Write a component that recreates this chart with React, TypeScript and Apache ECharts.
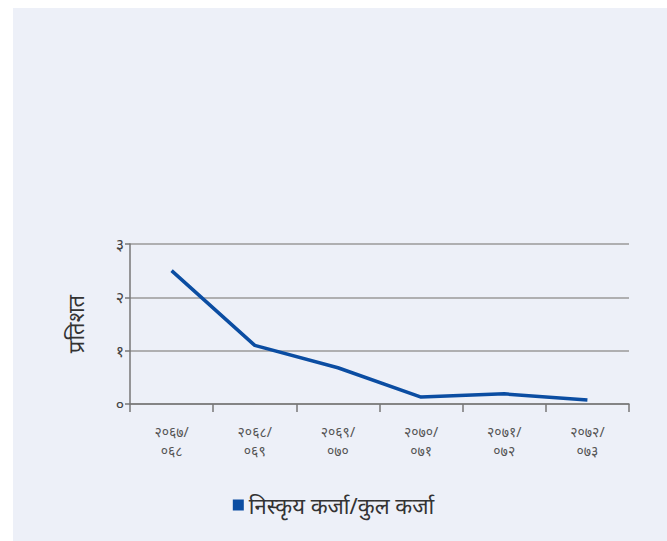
import React, { useEffect, useRef } from "react";
import * as echarts from "echarts";

const categories = [
  "२०६७/\n०६८",
  "२०६८/\n०६९",
  "२०६९/\n०७०",
  "२०७०/\n०७१",
  "२०७१/\n०७२",
  "२०७२/\n०७३",
];
const seriesName = "निस्कृय कर्जा/कुल कर्जा";
const values = [2.5, 1.1, 0.68, 0.13, 0.19, 0.075];
const yTickLabels = ["०", "१", "२", "३"];
const yAxisName = "प्रतिशत";

export default function App() {
  const ref = useRef<HTMLDivElement>(null);
  useEffect(() => {
    if (!ref.current) return;
    const chart = echarts.init(ref.current, null, { renderer: "svg" });
    const font = "'Noto Sans', 'DejaVu Sans', sans-serif";
    chart.setOption({
      animation: false,
      backgroundColor: "#ffffff",
      textStyle: { fontFamily: font },
      graphic: [
        {
          type: "rect",
          left: 13,
          top: 8,
          shape: { width: 654, height: 533 },
          style: { fill: "#edf0f8" },
          z: -10,
          silent: true,
        },
      ],
      grid: { left: 130, right: 38, top: 244, bottom: 137 },
      legend: {
        bottom: 20,
        left: "center",
        icon: "rect",
        itemWidth: 11,
        itemHeight: 11,
        itemGap: 8,
        textStyle: { fontSize: 22, color: "#333", fontFamily: font },
        data: [seriesName],
      },
      xAxis: {
        type: "category",
        data: categories,
        boundaryGap: true,
        axisLine: { lineStyle: { color: "#777", width: 1.5 } },
        axisTick: { show: true, length: 8, lineStyle: { color: "#777", width: 1.5 } },
        axisLabel: {
          color: "#555",
          fontSize: 14,
          lineHeight: 19,
          margin: 18,
          interval: 0,
        },
      },
      yAxis: {
        type: "value",
        min: 0,
        max: 3,
        interval: 1,
        name: yAxisName,
        nameLocation: "middle",
        nameGap: 44,
        nameRotate: 90,
        nameTextStyle: { fontSize: 22, color: "#333" },
        axisLine: { show: true, lineStyle: { color: "#777", width: 1.5 } },
        axisTick: { show: true, length: 5, lineStyle: { color: "#777", width: 1.5 } },
        axisLabel: {
          color: "#444",
          fontSize: 16,
          margin: 6,
          formatter: (v: number) => yTickLabels[Math.round(v)] ?? "",
        },
        splitLine: { show: true, lineStyle: { color: "#9a9a9a", width: 1.5 } },
      },
      series: [
        {
          name: seriesName,
          type: "line",
          data: values,
          showSymbol: false,
          symbol: "none",
          lineStyle: { color: "#0b4da2", width: 3.5 },
          itemStyle: { color: "#0b4da2" },
        },
      ],
    });
    return () => chart.dispose();
  }, []);
  return (
    <div
      ref={ref}
      style={{ position: "fixed", left: 0, top: 0, width: 667, height: 541 }}
    />
  );
}
